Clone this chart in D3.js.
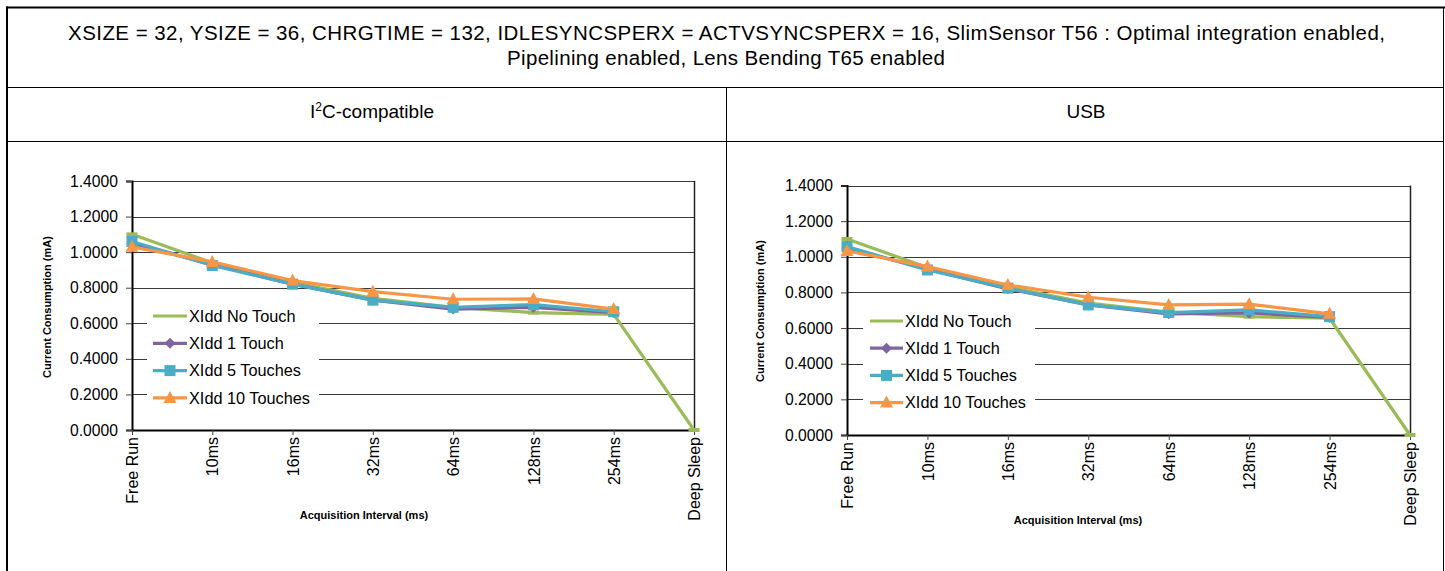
<!DOCTYPE html>
<html>
<head>
<meta charset="utf-8">
<script src="https://cdn.jsdelivr.net/npm/d3@7/dist/d3.min.js"></script>
<style>
  html, body { margin: 0; padding: 0; background: #fff; }
  svg { display: block; font-family: "Liberation Sans", Arial, Helvetica, sans-serif; }
</style>
</head>
<body>
<svg id="chart" width="1445" height="571"></svg>
<script>
// Acquisition interval categories (x axis)
const categories = ["Free Run", "10ms", "16ms", "32ms", "64ms", "128ms", "254ms", "Deep Sleep"];

// Y axis tick values (mA)
const yTicks = [0, 0.2, 0.4, 0.6, 0.8, 1.0, 1.2, 1.4];

// Series names
const seriesNames = ["XIdd No Touch", "XIdd 1 Touch", "XIdd 5 Touches", "XIdd 10 Touches"];

// I2C-compatible interface current consumption (mA)
const i2cNoTouch     = [1.100, 0.940, 0.830, 0.740, 0.690, 0.660, 0.650, 0.000];
const i2cOneTouch    = [1.050, 0.930, 0.820, 0.730, 0.680, 0.690, 0.660, null];
const i2cFiveTouches = [1.060, 0.925, 0.820, 0.730, 0.690, 0.705, 0.665, null];
const i2cTenTouches  = [1.030, 0.945, 0.840, 0.778, 0.735, 0.737, 0.680, null];

// USB interface current consumption (mA)
const usbNoTouch     = [1.100, 0.940, 0.830, 0.740, 0.690, 0.664, 0.655, 0.000];
const usbOneTouch    = [1.050, 0.930, 0.820, 0.730, 0.680, 0.685, 0.660, null];
const usbFiveTouches = [1.057, 0.926, 0.824, 0.730, 0.687, 0.702, 0.664, null];
const usbTenTouches  = [1.033, 0.945, 0.842, 0.773, 0.730, 0.734, 0.680, null];

const seriesColors = ["#9BBB59", "#8064A2", "#4BACC6", "#F79646"];
const seriesMarkers = ["dash", "diamond", "square", "triangle"];

const svg = d3.select("#chart");

// ---- table frame ----
const frame = svg.append("g");
const line = (x1, y1, x2, y2, w) => frame.append("line")
  .attr("x1", x1).attr("y1", y1).attr("x2", x2).attr("y2", y2)
  .attr("stroke", "#000").attr("stroke-width", w);
line(6, 7.5, 1445, 7.5, 2);        // top border
line(7, 6.5, 7, 571, 2);           // left border
line(1443.5, 7, 1443.5, 571, 1);   // right border
line(7, 87.5, 1444, 87.5, 1);      // below title row
line(7, 141.5, 1444, 141.5, 1);    // below header row
line(726.5, 87.5, 726.5, 571, 1);  // column divider

// ---- title rows ----
const titleLines = [
  "XSIZE = 32, YSIZE = 36, CHRGTIME = 132, IDLESYNCSPERX = ACTVSYNCSPERX = 16, SlimSensor T56 : Optimal integration enabled,",
  "Pipelining enabled, Lens Bending T65 enabled"
];
svg.append("text").attr("x", 726.5).attr("y", 40)
  .attr("text-anchor", "middle").attr("font-size", 20.5)
  .attr("textLength", 1317).attr("lengthAdjust", "spacing").text(titleLines[0]);
svg.append("text").attr("x", 726).attr("y", 65)
  .attr("text-anchor", "middle").attr("font-size", 20.5)
  .attr("textLength", 438).attr("lengthAdjust", "spacing").text(titleLines[1]);

const hdrI2C = svg.append("text").attr("x", 372).attr("y", 118)
  .attr("text-anchor", "middle").attr("font-size", 19);
hdrI2C.append("tspan").text("I");
hdrI2C.append("tspan").attr("dy", -7.5).attr("font-size", 12).text("2");
hdrI2C.append("tspan").attr("dy", 7.5).text("C-compatible");
svg.append("text").attr("x", 1086).attr("y", 118)
  .attr("text-anchor", "middle").attr("font-size", 19).text("USB");

// ---- chart panel ----
function drawPanel(cfg) {
  const g = svg.append("g");
  const x = d3.scalePoint().domain(categories).range([cfg.left, cfg.right]);
  const y = d3.scaleLinear().domain([0, 1.4]).range([cfg.bottom, cfg.top]);

  // horizontal gridlines
  g.append("g").selectAll("line").data(yTicks.slice(1)).join("line")
    .attr("x1", cfg.left).attr("x2", cfg.right)
    .attr("y1", d => Math.round(y(d)) + 0.5).attr("y2", d => Math.round(y(d)) + 0.5)
    .attr("stroke", "#3a3a3a").attr("stroke-width", 1);

  // right border of plot area
  g.append("line").attr("x1", cfg.right + 0.5).attr("x2", cfg.right + 0.5)
    .attr("y1", cfg.top).attr("y2", cfg.bottom).attr("stroke", "#222").attr("stroke-width", 1.5);

  // y axis
  const yAxis = d3.axisLeft(y).tickValues(yTicks).tickFormat(d3.format(".4f"))
    .tickSize(6).tickPadding(8);
  const ya = g.append("g").attr("transform", `translate(${cfg.left},0)`).call(yAxis);
  ya.select(".domain").attr("stroke", "#000").attr("stroke-width", 2);
  ya.selectAll(".tick line").attr("stroke", "#444");
  ya.selectAll(".tick text").attr("font-size", 15.7).attr("fill", "#000")
    .attr("font-family", "Liberation Sans, Arial, sans-serif");

  // x axis
  const xAxis = d3.axisBottom(x).tickSize(5).tickSizeOuter(0);
  const xa = g.append("g").attr("transform", `translate(0,${cfg.bottom})`).call(xAxis);
  xa.select(".domain").attr("stroke", "#000").attr("stroke-width", 2);
  xa.selectAll(".tick line").attr("stroke", "#444");
  xa.selectAll(".tick text")
    .attr("font-size", 16).attr("fill", "#000")
    .attr("font-family", "Liberation Sans, Arial, sans-serif")
    .attr("text-anchor", "end")
    .attr("transform", "rotate(-90)")
    .attr("x", -7).attr("y", 0).attr("dy", "0.35em");

  // axis titles
  g.append("text")
    .attr("transform", `translate(${cfg.yTitleX},${cfg.yTitleY}) rotate(-90)`)
    .attr("text-anchor", "middle").attr("font-size", 11).attr("font-weight", "bold")
    .text("Current Consumption (mA)");
  g.append("text").attr("x", cfg.xTitleX).attr("y", cfg.xTitleY)
    .attr("text-anchor", "middle").attr("font-size", 11).attr("font-weight", "bold")
    .text("Acquisition Interval (ms)");

  // legend background (hides gridlines beneath)
  const lg = cfg.legend;
  g.append("rect").attr("x", lg.x).attr("y", lg.y).attr("width", lg.w).attr("height", lg.h)
    .attr("fill", "#fff");

  // series lines + markers
  cfg.series.forEach((vals, si) => {
    const pts = vals.map((v, i) => ({ c: categories[i], v })).filter(p => p.v !== null);
    const ln = d3.line().x(p => x(p.c)).y(p => y(p.v));
    g.append("path").datum(pts).attr("d", ln)
      .attr("fill", "none").attr("stroke", seriesColors[si])
      .attr("stroke-width", 3.2).attr("stroke-linejoin", "round");
    drawMarkers(g, pts.map(p => [x(p.c), y(p.v)]), si);
  });

  // legend entries
  seriesNames.forEach((name, si) => {
    const cy = lg.firstY + si * lg.step;
    g.append("line").attr("x1", lg.lineX1).attr("x2", lg.lineX2)
      .attr("y1", cy).attr("y2", cy)
      .attr("stroke", seriesColors[si]).attr("stroke-width", 3.2);
    if (si > 0) drawMarkers(g, [[(lg.lineX1 + lg.lineX2) / 2, cy]], si);
    g.append("text").attr("x", lg.lineX2 + 2).attr("y", cy).attr("dy", "0.36em")
      .attr("font-size", 16.3).text(name);
  });
}

function drawMarkers(g, pts, si) {
  const color = seriesColors[si];
  const kind = seriesMarkers[si];
  pts.forEach(([px, py]) => {
    if (kind === "dash") {
      g.append("rect").attr("x", px - 5.5).attr("y", py - 2).attr("width", 11).attr("height", 4)
        .attr("fill", color);
    } else if (kind === "diamond") {
      g.append("path").attr("d", `M${px},${py - 5.5}L${px + 5.5},${py}L${px},${py + 5.5}L${px - 5.5},${py}Z`)
        .attr("fill", color);
    } else if (kind === "square") {
      g.append("rect").attr("x", px - 5.5).attr("y", py - 5.5).attr("width", 11).attr("height", 11)
        .attr("fill", color);
    } else {
      g.append("path").attr("d", `M${px},${py - 7}L${px + 6.5},${py + 5}L${px - 6.5},${py + 5}Z`)
        .attr("fill", color);
    }
  });
}

drawPanel({
  left: 132, right: 694, top: 181, bottom: 430,
  yTitleX: 51, yTitleY: 307, xTitleX: 364, xTitleY: 519,
  legend: { x: 147, y: 302, w: 172, h: 108, firstY: 316, step: 27.3, lineX1: 153, lineX2: 187 },
  series: [i2cNoTouch, i2cOneTouch, i2cFiveTouches, i2cTenTouches]
});

drawPanel({
  left: 847, right: 1410, top: 185.5, bottom: 435,
  yTitleX: 764, yTitleY: 311, xTitleX: 1078, xTitleY: 524,
  legend: { x: 863, y: 307, w: 172, h: 108, firstY: 321, step: 27.2, lineX1: 870, lineX2: 903 },
  series: [usbNoTouch, usbOneTouch, usbFiveTouches, usbTenTouches]
});
</script>
</body>
</html>
